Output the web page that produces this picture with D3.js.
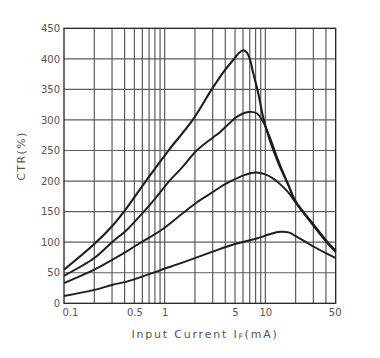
<!DOCTYPE html>
<html>
<head>
<meta charset="utf-8">
<script src="https://cdn.jsdelivr.net/npm/d3@7"></script>
<style>
  html, body { margin: 0; padding: 0; background: #fff; }
  svg { display: block; }
</style>
</head>
<body>
<svg id="chart" width="380" height="358"></svg>
<script>
// ---- data ----
const yTicks = [0, 50, 100, 150, 200, 250, 300, 350, 400, 450];
const xTickLabels = [0.1, 0.5, 1, 5, 10, 50];
const xGrid = [0.2,0.3,0.4,0.5,0.6,0.7,0.8,0.9,1,2,3,4,5,6,7,8,9,10,20,30,40];

const curve1X = [0.1, 0.2, 0.3, 0.394, 0.65, 1.09, 1.9, 2.93, 3.9, 4.9, 5.5, 6, 6.5, 7, 7.6, 8.5, 9.5, 11, 13.5, 17, 20, 30, 40, 50];
const curve1Y = [55, 97, 126, 150, 200, 250, 300, 350, 380, 400, 410, 414, 411, 400, 376, 344, 305, 268, 229, 193, 166, 129, 103, 86];

const curve2X = [0.1, 0.2, 0.3, 0.42, 0.59, 0.8, 1.11, 1.5, 2.08, 3, 3.54, 4.3, 5.2, 6.8, 8.2, 9.5, 11, 13.5, 17, 20, 30, 40, 50];
const curve2Y = [45, 74, 100, 120, 146, 171, 200, 223, 250, 271, 280, 293, 305, 313, 311, 297, 273, 233, 193, 167, 129, 103, 85];

const curve3X = [0.1, 0.2, 0.3, 0.42, 0.6, 0.93, 1.5, 2.08, 3, 3.54, 4.45, 6, 8, 10, 12, 14, 17, 20, 30, 40, 50];
const curve3Y = [33, 55, 71, 85, 101, 120, 147, 165, 182, 190, 199, 209, 214, 211, 204, 195, 181, 165, 127, 101, 84];

const curve4X = [0.1, 0.2, 0.3, 0.42, 0.6, 0.9, 1.5, 3, 5, 8.2, 11, 14, 17, 20, 30, 40, 50];
const curve4Y = [12, 22, 30, 35.5, 43.5, 54, 66.5, 84.5, 97, 106, 113, 117, 116, 110, 93, 82, 74];

const series = [
  { xs: curve1X, ys: curve1Y, w: 2.1 },
  { xs: curve2X, ys: curve2Y, w: 1.9 },
  { xs: curve3X, ys: curve3Y, w: 1.9 },
  { xs: curve4X, ys: curve4Y, w: 1.9 }
];

// ---- layout ----
const L = 64, R = 335.7, T = 28.3, B = 303.3;
const svg = d3.select("#chart");

const x = d3.scaleLog().domain([0.1, 50]).range([L, R]);
const y = d3.scaleLinear().domain([0, 450]).range([B, T]);

const gridColor = "#5c5c5c";
const textColor = "#555";

// vertical grid
svg.append("g").selectAll("line").data(xGrid).join("line")
  .attr("x1", d => x(d)).attr("x2", d => x(d))
  .attr("y1", T).attr("y2", B)
  .attr("stroke", gridColor).attr("stroke-width", 1.2);

// horizontal grid
svg.append("g").selectAll("line").data(yTicks.slice(1, -1)).join("line")
  .attr("x1", L).attr("x2", R)
  .attr("y1", d => y(d)).attr("y2", d => y(d))
  .attr("stroke", gridColor).attr("stroke-width", 1.2);

// frame
svg.append("rect")
  .attr("x", L).attr("y", T).attr("width", R - L).attr("height", B - T)
  .attr("fill", "none").attr("stroke", "#222").attr("stroke-width", 1.3);

// y axis labels
const yAxis = d3.axisLeft(y).tickValues(yTicks).tickSize(0).tickPadding(4).tickFormat(d3.format("d"));
const gy = svg.append("g").attr("transform", `translate(${L},0)`).call(yAxis);
gy.select(".domain").remove();
gy.selectAll("text")
  .attr("font-family", "DejaVu Sans, sans-serif").attr("font-size", 10)
  .attr("fill", textColor);

// x axis labels
const xAxis = d3.axisBottom(x).tickValues(xTickLabels).tickSize(0).tickPadding(6)
  .tickFormat(d => String(d));
const gx = svg.append("g").attr("transform", `translate(0,${B})`).call(xAxis);
gx.select(".domain").remove();
gx.selectAll("text")
  .attr("font-family", "DejaVu Sans, sans-serif").attr("font-size", 10)
  .attr("fill", textColor)
  .attr("dx", d => d === 0.1 ? 6 : (d === 50 ? -1 : 0));

// curves
const line = d3.line().x(d => x(d[0])).y(d => y(d[1])).curve(d3.curveCatmullRom.alpha(0.5));
series.forEach(s => {
  const pts = s.xs.map((v, i) => [v, s.ys[i]]);
  svg.append("path").datum(pts)
    .attr("d", line)
    .attr("fill", "none").attr("stroke", "#1e1e1e")
    .attr("stroke-width", s.w).attr("stroke-linejoin", "round");
});

// axis titles
const xt = svg.append("text")
  .attr("x", 205).attr("y", 338)
  .attr("text-anchor", "middle")
  .attr("font-family", "DejaVu Sans, sans-serif").attr("font-size", 11)
  .attr("letter-spacing", "1.8px")
  .attr("fill", textColor);
xt.append("tspan").text("Input Current I");
xt.append("tspan").attr("font-size", 7.5).attr("dy", 1).text("F");
xt.append("tspan").attr("dy", -1).text("(mA)");

svg.append("text")
  .attr("transform", "translate(25,156) rotate(-90)")
  .attr("text-anchor", "middle")
  .attr("font-family", "DejaVu Sans, sans-serif").attr("font-size", 11)
  .attr("letter-spacing", "1.4px")
  .attr("fill", textColor)
  .text("CTR(%)");
</script>
</body>
</html>
